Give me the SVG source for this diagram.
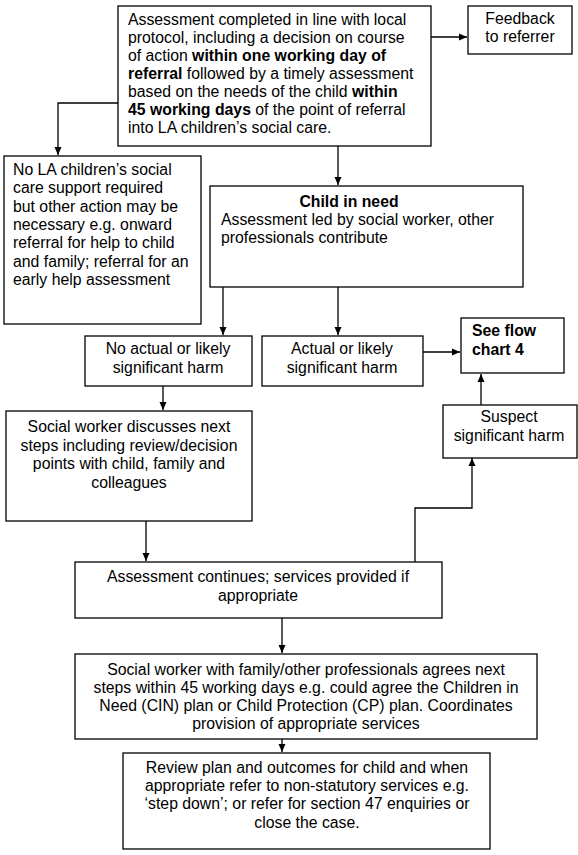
<svg xmlns="http://www.w3.org/2000/svg" width="578" height="855" viewBox="0 0 578 855">
<defs>
<marker id="ah" markerWidth="8" markerHeight="8" refX="8" refY="4" orient="auto" markerUnits="userSpaceOnUse">
<path d="M0,0.5 L8,4 L0,7.5 Z" fill="#000"/>
</marker>
<style>
.box{fill:#fff;stroke:#000;stroke-width:1.3}
.t{font-family:"Liberation Sans",Arial,sans-serif;font-size:15.8px;fill:#000}
.c{text-anchor:middle}
.b{font-weight:bold}
.ln{fill:none;stroke:#000;stroke-width:1.3;marker-end:url(#ah)}
</style>
</defs>
<rect width="578" height="855" fill="#fff"/>
<g id="connectors">
<path class="ln" d="M431,37 H467"/>
<path class="ln" d="M118,103 H58 V155"/>
<path class="ln" d="M338,146 V185"/>
<path class="ln" d="M223,287 V335"/>
<path class="ln" d="M338,287 V335"/>
<path class="ln" d="M423,352 H460"/>
<path class="ln" d="M163,386 V410"/>
<path class="ln" d="M481,405 V374"/>
<path class="ln" d="M146,521 V561"/>
<path class="ln" d="M415,562 V508 H472 V458"/>
<path class="ln" d="M282,618 V653"/>
<path class="ln" d="M282,739 V752"/>
</g>
<g id="n-assessment">
<rect class="box" x="118" y="6" width="313" height="140"/>
<text class="t" x="128" y="25">Assessment completed in line with local</text>
<text class="t" x="128" y="43">protocol, including a decision on course</text>
<text class="t" x="128" y="61">of action <tspan class="b">within one working day of</tspan></text>
<text class="t" x="128" y="79"><tspan class="b">referral</tspan> followed by a timely assessment</text>
<text class="t" x="128" y="97">based on the needs of the child <tspan class="b">within</tspan></text>
<text class="t" x="128" y="115"><tspan class="b">45 working days</tspan> of the point of referral</text>
<text class="t" x="128" y="133">into LA children’s social care.</text>
</g>
<g id="n-feedback">
<rect class="box" x="468" y="6" width="104" height="48"/>
<text class="t c" x="520" y="24">Feedback</text>
<text class="t c" x="520" y="42">to referrer</text>
</g>
<g id="n-nosupport">
<rect class="box" x="4" y="156" width="197" height="168"/>
<text class="t" x="13" y="175">No LA children’s social</text>
<text class="t" x="13" y="193">care support required</text>
<text class="t" x="13" y="212">but other action may be</text>
<text class="t" x="13" y="230">necessary e.g. onward</text>
<text class="t" x="13" y="248">referral for help to child</text>
<text class="t" x="13" y="267">and family; referral for an</text>
<text class="t" x="13" y="285">early help assessment</text>
</g>
<g id="n-childinneed">
<rect class="box" x="210" y="186" width="313" height="101"/>
<text class="t c b" x="349" y="207">Child in need</text>
<text class="t" x="221" y="225">Assessment led by social worker, other</text>
<text class="t" x="221" y="243">professionals contribute</text>
</g>
<g id="n-noharm">
<rect class="box" x="85" y="336" width="167" height="50"/>
<text class="t c" x="168" y="354">No actual or likely</text>
<text class="t c" x="168" y="373">significant harm</text>
</g>
<g id="n-harm">
<rect class="box" x="262" y="336" width="161" height="50"/>
<text class="t c" x="342" y="354">Actual or likely</text>
<text class="t c" x="342" y="373">significant harm</text>
</g>
<g id="n-flowchart4">
<rect class="box" x="461" y="318" width="103" height="55"/>
<text class="t b" x="472" y="336">See flow</text>
<text class="t b" x="472" y="355">chart 4</text>
</g>
<g id="n-suspect">
<rect class="box" x="443" y="405" width="134" height="53"/>
<text class="t c" x="509" y="422">Suspect</text>
<text class="t c" x="509" y="441">significant harm</text>
</g>
<g id="n-discuss">
<rect class="box" x="6" y="411" width="246" height="110"/>
<text class="t c" x="129" y="432">Social worker discusses next</text>
<text class="t c" x="129" y="451">steps including review/decision</text>
<text class="t c" x="129" y="469">points with child, family and</text>
<text class="t c" x="129" y="488">colleagues</text>
</g>
<g id="n-continues">
<rect class="box" x="75" y="562" width="367" height="56"/>
<text class="t c" x="258" y="582">Assessment continues; services provided if</text>
<text class="t c" x="258" y="601">appropriate</text>
</g>
<g id="n-agrees">
<rect class="box" x="75" y="654" width="462" height="85"/>
<text class="t c" x="306" y="675">Social worker with family/other professionals agrees next</text>
<text class="t c" x="306" y="693">steps within 45 working days e.g. could agree the Children in</text>
<text class="t c" x="306" y="711">Need (CIN) plan or Child Protection (CP) plan. Coordinates</text>
<text class="t c" x="306" y="729">provision of appropriate services</text>
</g>
<g id="n-review">
<rect class="box" x="123" y="753" width="367" height="96"/>
<text class="t c" x="307" y="773">Review plan and outcomes for child and when</text>
<text class="t c" x="307" y="791">appropriate refer to non-statutory services e.g.</text>
<text class="t c" x="307" y="809">‘step down’; or refer for section 47 enquiries or</text>
<text class="t c" x="307" y="828">close the case.</text>
</g>
</svg>
